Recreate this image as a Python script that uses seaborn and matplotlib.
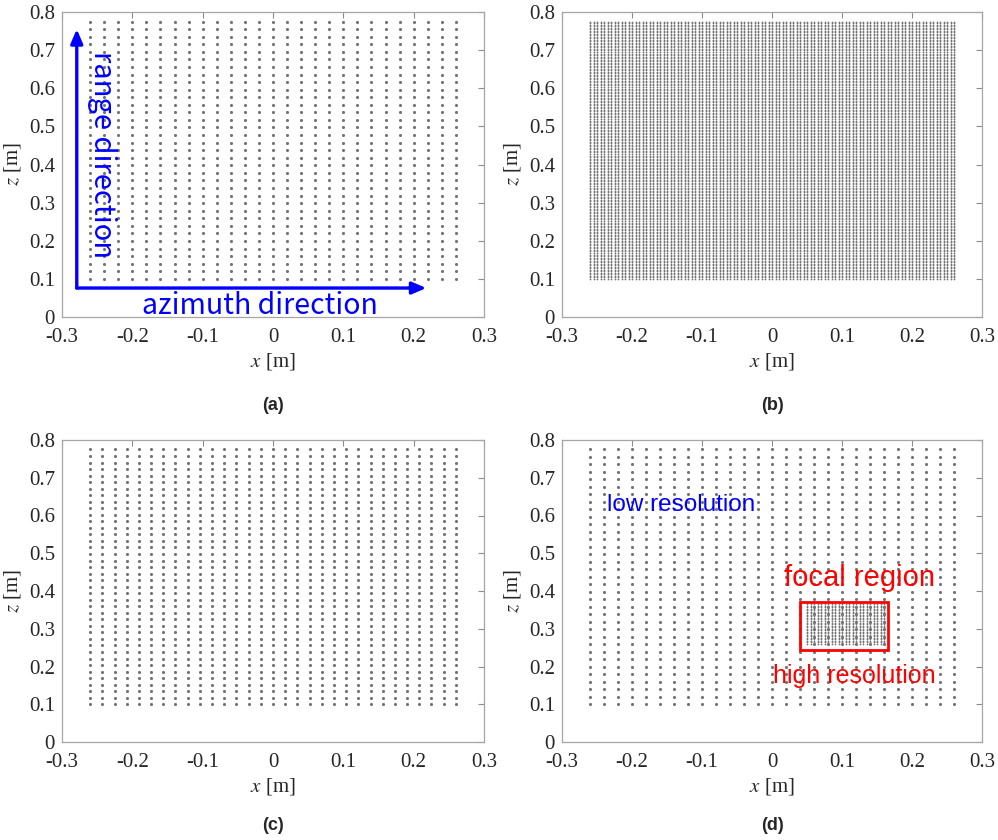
import numpy as np
import pandas as pd
import matplotlib
matplotlib.use("Agg")
import matplotlib.pyplot as plt
import seaborn as sns

# Sampling grids of the imaging scene (x: azimuth, z: range), in metres
X_MIN, X_MAX = -0.26, 0.26
Z_MIN, Z_MAX = 0.10, 0.775

coarse_nx, coarse_nz = 27, 35      # (a) and background of (d)
fine_nx, fine_nz = 105, 170        # (b)
mid_nx, mid_nz = 31, 40            # (c)

focal_x = [0.05, 0.16]             # dense patch in (d)
focal_z = [0.26, 0.365]
focal_nx, focal_nz = 23, 27
focal_box = [0.040, 0.245, 0.125, 0.125]   # x0, z0, width, height

x_ticks = [-0.3, -0.2, -0.1, 0.0, 0.1, 0.2, 0.3]
x_tick_labels = ["-0.3", "-0.2", "-0.1", "0", "0.1", "0.2", "0.3"]
z_ticks = [0.0, 0.1, 0.2, 0.3, 0.4, 0.5, 0.6, 0.7, 0.8]
z_tick_labels = ["0", "0.1", "0.2", "0.3", "0.4", "0.5", "0.6", "0.7", "0.8"]
panel_tags = ["(a)", "(b)", "(c)", "(d)"]


def grid(xr, zr, nx, nz):
    xx, zz = np.meshgrid(np.linspace(xr[0], xr[1], nx),
                         np.linspace(zr[0], zr[1], nz))
    return pd.DataFrame({"x": xx.ravel(), "z": zz.ravel()})


coarse = grid((X_MIN, X_MAX), (Z_MIN, Z_MAX), coarse_nx, coarse_nz)
fine = grid((X_MIN, X_MAX), (Z_MIN, Z_MAX), fine_nx, fine_nz)
mid = grid((X_MIN, X_MAX), (Z_MIN, Z_MAX), mid_nx, mid_nz)
focal = grid(focal_x, focal_z, focal_nx, focal_nz)

sns.set_theme(style="white")
plt.rcParams["font.family"] = ["Liberation Serif", "DejaVu Serif"]
plt.rcParams["mathtext.fontset"] = "stix"

W, H = 998, 840
fig = plt.figure(figsize=(W / 100, H / 100), dpi=100)


def add_axes(l, t, r, b):
    return fig.add_axes([l / W, 1 - b / H, (r - l) / W, (b - t) / H])


axes = [
    add_axes(62, 12, 484, 317),
    add_axes(562, 12, 982, 317),
    add_axes(62, 440, 484, 742),
    add_axes(562, 440, 982, 742),
]

DOT = "#737373"
sns.scatterplot(data=coarse, x="x", y="z", ax=axes[0], s=5, color=DOT,
                linewidth=0, marker="o")
sns.scatterplot(data=fine, x="x", y="z", ax=axes[1], s=1.6, color=DOT,
                linewidth=0, marker="o")
sns.scatterplot(data=mid, x="x", y="z", ax=axes[2], s=5, color=DOT,
                linewidth=0, marker="o")
sns.scatterplot(data=coarse, x="x", y="z", ax=axes[3], s=5, color=DOT,
                linewidth=0, marker="o")
sns.scatterplot(data=focal, x="x", y="z", ax=axes[3], s=1.6, color=DOT,
                linewidth=0, marker="o")

for ax, tag in zip(axes, panel_tags):
    ax.set_xlim(-0.3, 0.3)
    ax.set_ylim(0, 0.8)
    ax.set_xticks(x_ticks)
    ax.set_xticklabels(x_tick_labels)
    ax.set_yticks(z_ticks)
    ax.set_yticklabels(z_tick_labels)
    ax.tick_params(direction="in", length=4, width=0.8, color="#8c8c8c",
                   labelsize=15, labelcolor="#262626", pad=5,
                   top=True, right=True)
    ax.tick_params(axis="x", pad=8)
    for sp in ax.spines.values():
        sp.set_visible(True)
        sp.set_color("#a6a6a6")
        sp.set_linewidth(0.9)
    ax.set_xlabel(r"$x$ [m]", fontsize=15, color="#262626", labelpad=3)
    ax.set_ylabel(r"$z$ [m]", fontsize=15, color="#262626", labelpad=4)
    pos = ax.get_position()
    ty = 0.517 if pos.y0 > 0.5 else 0.0167
    fig.text(pos.x0 + pos.width / 2, ty, tag, ha="center", va="center",
             fontsize=13, fontweight="bold",
             family=["Liberation Sans", "DejaVu Sans"])

# Direction arrows in (a)
ax = axes[0]
BLUE = "#0000ff"
arrow_kw = dict(arrowstyle="-|>,head_length=0.7,head_width=0.3",
                color=BLUE, lw=2.4, shrinkA=0, shrinkB=0)
ax.annotate("", xy=(-0.279, 0.755), xytext=(-0.279, 0.076), arrowprops=arrow_kw)
ax.annotate("", xy=(0.218, 0.076), xytext=(-0.279, 0.076), arrowprops=arrow_kw)
sans_kr = ["Noto Sans CJK KR", "DejaVu Sans"]
ax.text(-0.243, 0.425, "range direction", rotation=-90, color=BLUE,
        fontsize=21, ha="center", va="center", family=sans_kr)
ax.text(-0.018, 0.028, "azimuth direction", color=BLUE,
        fontsize=20.5, ha="center", va="center", family=sans_kr)

# Annotations in (d)
ax = axes[3]
RED = "#ff0000"
sans = ["Liberation Sans", "DejaVu Sans"]
ax.text(-0.236, 0.628, "low resolution", color=BLUE, fontsize=17.5,
        ha="left", va="center", family=sans)
ax.text(0.017, 0.434, "focal region", color=RED, fontsize=21,
        ha="left", va="center", family=sans)
ax.text(0.002, 0.175, "high resolution", color=RED, fontsize=18,
        ha="left", va="center", family=sans)
ax.add_patch(plt.Rectangle((focal_box[0], focal_box[1]), focal_box[2],
                           focal_box[3], fill=False, edgecolor=RED, lw=2.0,
                           zorder=5))

fig.savefig("out.png", dpi=100, facecolor="white")
